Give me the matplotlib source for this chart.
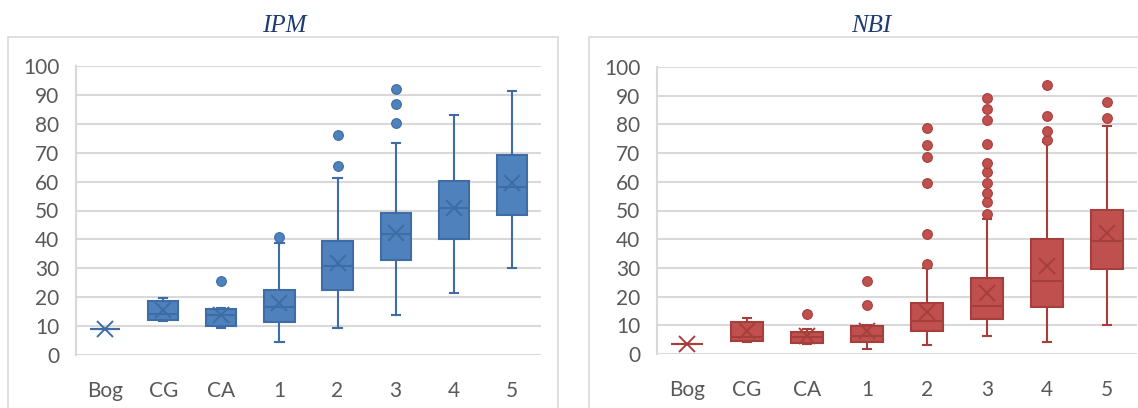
import matplotlib.pyplot as plt
from matplotlib.patches import Rectangle

# categories (x axis)
categories = ['Bog', 'CG', 'CA', '1', '2', '3', '4', '5']

# IPM box stats
ipm_whislo = [8.9, 11.7, 9.4, 4.4, 9.5, 13.7, 21.6, 30.2]
ipm_q1 = [8.9, 12.0, 10.2, 11.3, 22.6, 32.8, 40.2, 48.3]
ipm_med = [8.9, 14.2, 13.9, 16.7, 30.7, 41.8, 50.7, 58.0]
ipm_q3 = [8.9, 18.6, 15.8, 22.5, 39.4, 49.2, 60.1, 69.3]
ipm_whishi = [8.9, 19.8, 16.3, 38.9, 61.3, 73.4, 83.1, 91.4]
ipm_mean = [8.9, 15.4, 13.7, 18.1, 31.7, 42.3, 50.9, 59.5]
ipm_fliers = [[], [], [25.6], [40.8], [65.3, 76.2], [80.2, 86.7, 92.2], [], []]

# NBI box stats
nbi_whislo = [3.6, 4.2, 3.5, 1.7, 3.2, 6.3, 4.3, 10.1]
nbi_q1 = [3.6, 4.6, 3.8, 4.3, 8.1, 12.2, 16.5, 29.7]
nbi_med = [3.6, 5.8, 5.9, 6.1, 11.6, 16.6, 25.6, 39.2]
nbi_q3 = [3.6, 11.0, 7.5, 9.6, 17.6, 26.6, 39.9, 50.1]
nbi_whishi = [3.6, 12.7, 8.7, 10.2, 30.0, 47.0, 73.7, 79.3]
nbi_mean = [3.6, 7.9, 6.1, 7.9, 14.6, 21.2, 30.5, 42.3]
nbi_fliers = [[], [], [13.9], [17.1, 25.5], [31.4, 41.7, 59.5, 68.6, 72.8, 78.6],
              [48.8, 53.0, 56.0, 59.5, 63.5, 66.5, 73.2, 81.5, 85.2, 89.2],
              [74.5, 77.8, 82.8, 93.8], [82.1, 87.9]]

W, H = 1138, 408
fig = plt.figure(figsize=(W / 100, H / 100), dpi=100)

grey = '#595959'
font = ['Lato', 'DejaVu Sans']


def make_stats(lo, q1, med, q3, hi, mean, fl):
    stats = []
    for i in range(len(categories)):
        stats.append(dict(whislo=lo[i], q1=q1[i], med=med[i], q3=q3[i],
                          whishi=hi[i], mean=mean[i], fliers=fl[i], label=categories[i]))
    return stats


def draw_panel(px_ax, px_frame, title, title_x, stats, fill, edge):
    # frame around the panel (pixel coords -> figure fraction)
    fx0, fx1 = px_frame
    fig.patches.append(Rectangle((fx0 / W, -0.1), (fx1 - fx0) / W, (H - 37) / H + 0.1,
                                 transform=fig.transFigure, fill=False,
                                 edgecolor='#D9D9D9', lw=1.2, zorder=0))
    x0, x1, ytop, ybot = px_ax
    ax = fig.add_axes([x0 / W, (H - ybot) / H, (x1 - x0) / W, (ybot - ytop) / H])
    ax.bxp(stats, positions=range(len(stats)), widths=0.52, capwidths=0.14,
           showmeans=True, patch_artist=True,
           boxprops=dict(facecolor=fill, edgecolor=edge, lw=1.5),
           whiskerprops=dict(color=edge, lw=1.5),
           capprops=dict(color=edge, lw=1.5),
           medianprops=dict(color=edge, lw=1.5),
           meanprops=dict(marker='x', markersize=11, markeredgecolor=edge,
                          markeredgewidth=1.4),
           flierprops=dict(marker='o', markersize=7, markerfacecolor=fill,
                           markeredgecolor=edge, markeredgewidth=0.8))
    ax.set_xlim(-0.5, len(stats) - 0.5)
    ax.set_ylim(0, 100)
    ax.set_yticks(range(0, 101, 10))
    ax.grid(axis='y', color='#D9D9D9', lw=1.5)
    ax.set_axisbelow(True)
    for s in ['top', 'right', 'bottom']:
        ax.spines[s].set_visible(False)
    ax.spines['left'].set_color('#D9D9D9')
    ax.spines['left'].set_linewidth(1.5)
    ax.tick_params(axis='y', length=0, pad=12, labelsize=15, labelcolor=grey)
    ax.tick_params(axis='x', length=0, pad=19, labelsize=15, labelcolor=grey)
    for lab in ax.get_xticklabels() + ax.get_yticklabels():
        lab.set_family(font)
    fig.text(title_x / W, 1 - 26 / H, title, ha='center', va='center',
             fontsize=18, style='italic', family='Liberation Serif', color='#1F3C70')
    return ax


draw_panel((76, 541, 66, 355), (8, 558), 'IPM', 284,
           make_stats(ipm_whislo, ipm_q1, ipm_med, ipm_q3, ipm_whishi, ipm_mean, ipm_fliers),
           '#4F81BD', '#3E6CA5')
draw_panel((657, 1137, 67, 354), (589, 1160), 'NBI', 871,
           make_stats(nbi_whislo, nbi_q1, nbi_med, nbi_q3, nbi_whishi, nbi_mean, nbi_fliers),
           '#C0504D', '#A53F3C')

fig.savefig('out.png', dpi=100)
